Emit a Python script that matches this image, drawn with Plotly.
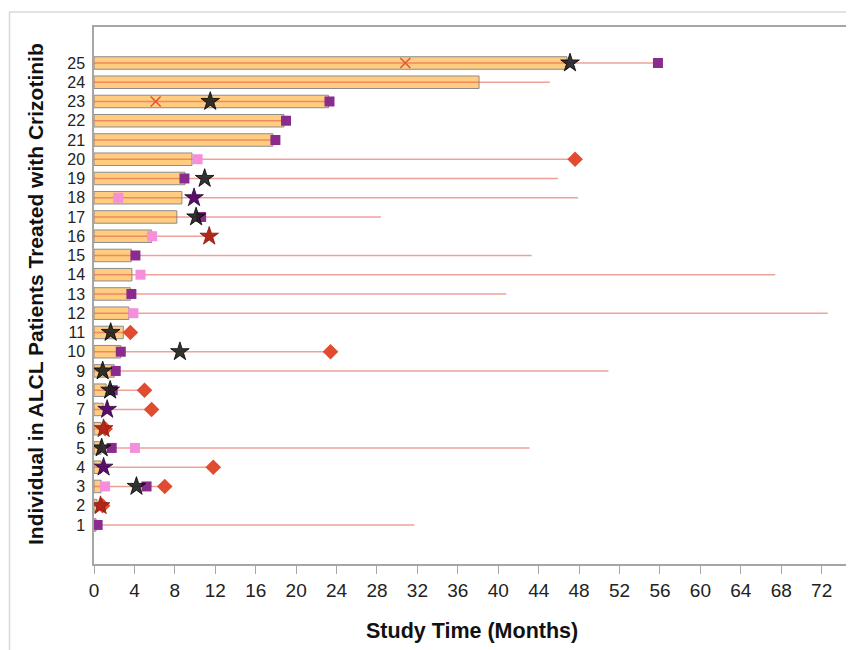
import plotly.graph_objects as go

patients = list(range(1, 26))
treatment = [0.2, 0.3, 0.7, 0.7, 0.7, 0.7, 0.9, 1.2, 2.0, 2.65, 2.9, 3.45, 3.6, 3.75, 3.7,
             5.7, 8.2, 8.7, 9.0, 9.7, 17.7, 18.8, 23.2, 38.1, 46.8]
followup = [31.7, 0.9, 7.0, 11.8, 43.1, 1.1, 5.7, 5.0, 50.9, 23.4, 3.6, 72.6, 40.8, 67.4, 43.3,
            11.4, 28.4, 47.9, 45.9, 47.6, 17.95, 19.0, 23.3, 45.1, 55.8]
purple_sq = [0.36, None, 5.2, None, 1.75, None, None, 1.85, 2.15, 2.65, None, None, 3.7, None, 4.1,
             None, 10.6, None, 8.95, None, 17.95, 19.0, 23.3, None, 55.8]
pink_sq = [None, None, 1.1, None, 4.05, None, None, None, None, None, None, 3.9, None, 4.6, None,
           5.75, None, 2.4, None, 10.25, None, None, None, None, None]
red_diamond = [None, 0.85, 7.0, 11.8, None, 1.1, 5.7, 5.0, None, 23.4, 3.6, None, None, None, None,
               None, None, None, None, 47.6, None, None, None, None, None]
black_star = [None, None, 4.2, None, 0.76, None, None, 1.6, 0.86, 8.5, 1.65, None, None, None, None,
              None, 10.1, None, 10.95, None, None, None, 11.5, None, 47.1]
purple_star = [None, None, None, 0.95, None, None, 1.3, None, None, None, None, None, None, None, None,
               None, None, 9.9, None, None, None, None, None, None, None]
red_star = [None, 0.65, None, None, None, 0.95, None, None, None, None, None, None, None, None, None,
            11.4, None, None, None, None, None, None, None, None, None]
red_x = [None, None, None, None, None, None, None, None, None, None, None, None, None, None, None,
         None, None, None, None, None, None, None, 6.1, None, 30.8]
x_ticks = list(range(0, 76, 4))

fig = go.Figure()

fig.add_trace(go.Bar(
    y=patients, x=treatment, base=0, orientation="h", width=0.65,
    marker=dict(color="#FFCC80", line=dict(color="#8C8C8C", width=1)),
    name="Crizotinib treatment", hoverinfo="x+y"))

line_x, line_y = [], []
for p, f in zip(patients, followup):
    line_x += [0, f, None]
    line_y += [p, p, None]
fig.add_trace(go.Scatter(x=line_x, y=line_y, mode="lines",
                         line=dict(color="rgba(222,85,65,0.55)", width=1.6),
                         name="Follow-up", hoverinfo="skip"))


def marker_trace(vals, name, **mk):
    return go.Scatter(x=vals, y=patients, mode="markers", name=name, marker=mk)


fig.add_trace(marker_trace(pink_sq, "Pink square", symbol="square", size=10, color="#F58FDC",
                           line=dict(width=0)))
fig.add_trace(marker_trace(purple_sq, "Purple square", symbol="square", size=10, color="#892C8D",
                           line=dict(width=0)))
fig.add_trace(marker_trace(red_diamond, "Red diamond", symbol="diamond", size=12, color="#E14B30",
                           line=dict(width=0)))
fig.add_trace(marker_trace(red_star, "Red star", symbol="star", size=14, color="#B5261A",
                           line=dict(color="#7a1a10", width=0.8)))
fig.add_trace(marker_trace(black_star, "Black star", symbol="star", size=14, color="rgba(30,30,30,0.9)",
                           line=dict(color="#000000", width=0.8)))
fig.add_trace(marker_trace(purple_star, "Purple star", symbol="star", size=14, color="#5A0D6C",
                           line=dict(color="#2a0535", width=0.8)))
fig.add_trace(marker_trace(red_x, "Red X", symbol="x-thin", size=10,
                           line=dict(color="#E0553A", width=1.5)))

# page has an 8px body margin: plot area lands at x 94..852, y 27..564 of the window
fig.update_layout(
    width=854, height=650,
    margin=dict(l=86, r=10, t=19, b=94, autoexpand=False),
    paper_bgcolor="white", plot_bgcolor="white",
    showlegend=False, bargap=0.35,
    font=dict(family="Liberation Sans, Arial, sans-serif", color="#222222"),
    shapes=[dict(type="rect", xref="paper", yref="paper",
                 x0=(9.5 - 94) / 758, x1=(870 - 94) / 758,
                 y0=(564 - 670) / 537, y1=(564 - 12) / 537,
                 line=dict(color="#D9D9D9", width=1.5), layer="below")],
    annotations=[
        dict(text="<b>Study Time (Months)</b>", xref="paper", yref="paper",
             x=(472 - 94) / 758, y=(564 - 631) / 537, xanchor="center", yanchor="middle",
             showarrow=False, font=dict(size=21.5, color="#111111")),
        dict(text="<b>Individual in ALCL Patients Treated with Crizotinib</b>", xref="paper", yref="paper",
             x=(35 - 94) / 758, y=(564 - 294) / 537, xanchor="center", yanchor="middle",
             textangle=-90, showarrow=False, font=dict(size=21, color="#111111")),
    ],
)

fig.update_xaxes(range=[0, 75], tickvals=x_ticks, ticktext=[str(v) for v in x_ticks],
                 showgrid=False, zeroline=False, showline=True, linecolor="#A6A6A6", linewidth=1.5,
                 mirror=True, ticks="outside", ticklen=8, tickcolor="#A6A6A6", tickwidth=1.2,
                 tickfont=dict(size=19, color="#222222"), automargin=False)
fig.update_yaxes(range=[-1.03, 26.87], tickvals=patients, ticktext=[str(p) for p in patients],
                 showgrid=False, zeroline=False, showline=True, linecolor="#A6A6A6", linewidth=1.5,
                 mirror=True, ticks="", ticklabelstandoff=4,
                 tickfont=dict(size=16, color="#222222"), automargin=False)

fig.write_html("out.html")
